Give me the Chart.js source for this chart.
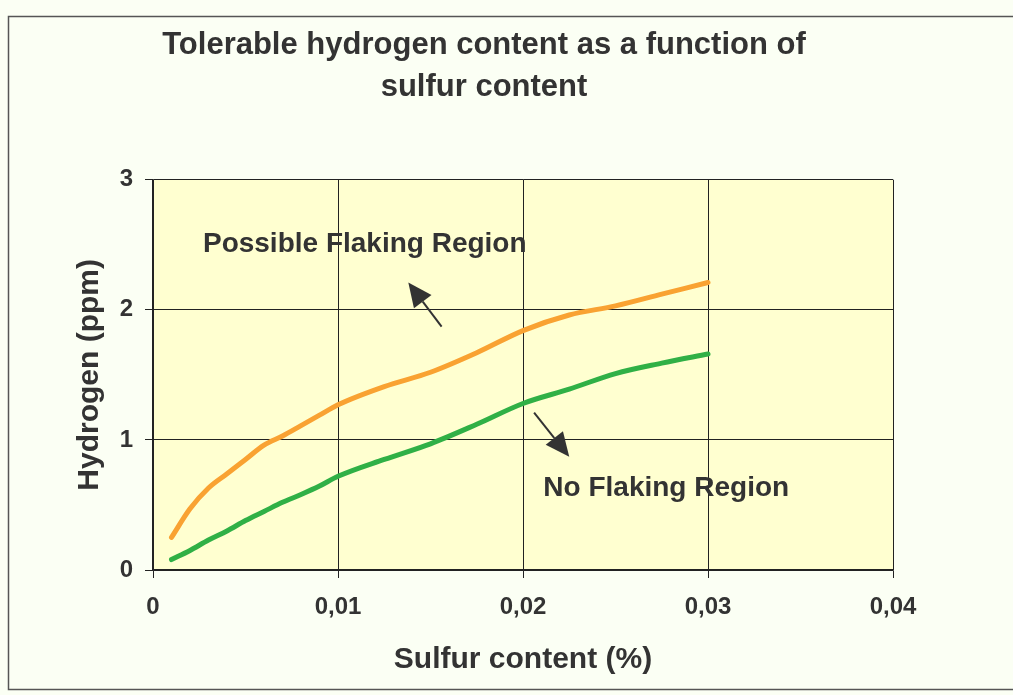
<!DOCTYPE html>
<html>
<head>
<meta charset="utf-8">
<script src="https://cdn.jsdelivr.net/npm/chart.js@4/dist/chart.umd.min.js"></script>
<style>
  html, body { margin: 0; padding: 0; background: #ffffff; }
  #wrap { width: 1013px; height: 695px; }
</style>
</head>
<body>
<div id="wrap"><canvas id="chart-area" width="1013" height="695"></canvas></div>
<script>
// sulfur content (%) and tolerable hydrogen (ppm)
var sulfur = [0.001, 0.002, 0.003, 0.004, 0.005, 0.006, 0.007, 0.008, 0.009, 0.010,
              0.0125, 0.015, 0.0175, 0.020, 0.0225, 0.025, 0.0275, 0.030];
var upperCurve = [0.25, 0.47, 0.63, 0.74, 0.85, 0.96, 1.03, 1.11, 1.19, 1.27,
                  1.41, 1.52, 1.67, 1.84, 1.96, 2.03, 2.12, 2.21];
var lowerCurve = [0.08, 0.15, 0.23, 0.30, 0.38, 0.45, 0.52, 0.58, 0.645, 0.72,
                  0.85, 0.97, 1.12, 1.28, 1.39, 1.51, 1.59, 1.66];
var xTicks = [0, 0.01, 0.02, 0.03, 0.04];
var yTicks = [0, 1, 2, 3];
var regionNames = ['Possible Flaking Region', 'No Flaking Region'];

var FONT = "'Liberation Sans', Arial, Helvetica, sans-serif";
var INK = '#333333';

function points(ys) {
  return sulfur.map(function(x, i) { return { x: x, y: ys[i] }; });
}

// region labels with their arrows, in data units
var notes = [
  { text: regionNames[0], x: 0.0027, y: 2.50, from: [0.0156, 1.87], to: [0.0138, 2.21] },
  { text: regionNames[1], x: 0.0211, y: 0.63, from: [0.0206, 1.21], to: [0.0225, 0.87] }
];

var paper = {
  id: 'paper',
  beforeDraw: function(chart) {
    var c = chart.ctx, a = chart.chartArea;
    c.save();
    c.fillStyle = '#fbfff4';
    c.fillRect(0, 0, chart.width, chart.height);
    c.strokeStyle = '#555555';
    c.lineWidth = 1.5;
    c.strokeRect(8.5, 16.5, chart.width + 10, 673);
    c.fillStyle = '#ffffd0';
    c.fillRect(a.left, a.top, a.right - a.left, a.bottom - a.top);
    c.restore();
  }
};

var regions = {
  id: 'regions',
  afterDatasetsDraw: function(chart) {
    var c = chart.ctx, sx = chart.scales.x, sy = chart.scales.y;
    c.save();
    c.fillStyle = INK;
    c.strokeStyle = INK;
    c.font = 'bold 28px ' + FONT;
    c.textBaseline = 'middle';
    c.textAlign = 'left';
    notes.forEach(function(n) {
      c.fillText(n.text, sx.getPixelForValue(n.x), sy.getPixelForValue(n.y));
      var x1 = sx.getPixelForValue(n.from[0]), y1 = sy.getPixelForValue(n.from[1]);
      var x2 = sx.getPixelForValue(n.to[0]), y2 = sy.getPixelForValue(n.to[1]);
      var ang = Math.atan2(y2 - y1, x2 - x1);
      var hl = 24, hw = 11;
      var bx = x2 - hl * Math.cos(ang), by = y2 - hl * Math.sin(ang);
      c.lineWidth = 2;
      c.beginPath();
      c.moveTo(x1, y1);
      c.lineTo(bx, by);
      c.stroke();
      c.beginPath();
      c.moveTo(x2, y2);
      c.lineTo(bx + hw * Math.sin(ang), by - hw * Math.cos(ang));
      c.lineTo(bx - hw * Math.sin(ang), by + hw * Math.cos(ang));
      c.closePath();
      c.fill();
    });
    c.restore();
  }
};

window.onload = function() {
  var ctx = document.getElementById('chart-area').getContext('2d');
  var config = {
    type: 'line',
    data: {
      datasets: [{
        label: 'Upper limit',
        data: points(upperCurve),
        borderColor: '#f9a232',
        borderWidth: 5,
        borderCapStyle: 'round',
        pointRadius: 0,
        cubicInterpolationMode: 'monotone',
        fill: false
      }, {
        label: 'Lower limit',
        data: points(lowerCurve),
        borderColor: '#30b046',
        borderWidth: 5,
        borderCapStyle: 'round',
        pointRadius: 0,
        cubicInterpolationMode: 'monotone',
        fill: false
      }]
    },
    options: {
      responsive: false,
      animation: false,
      layout: { padding: { top: 0, left: 75, right: 120, bottom: 0 } },
      plugins: {
        legend: { display: false },
        tooltip: { enabled: false },
        title: {
          display: true,
          text: ['Tolerable hydrogen content as a function of', 'sulfur content'],
          color: INK,
          font: { family: FONT, size: 31, weight: 'bold', lineHeight: 1.35 },
          padding: { top: 25, bottom: 71 }
        }
      },
      scales: {
        x: {
          type: 'linear',
          min: xTicks[0],
          max: xTicks[xTicks.length - 1],
          afterBuildTicks: function(scale) {
            scale.ticks = xTicks.map(function(v) { return { value: v }; });
          },
          afterFit: function(scale) { scale.height = 125; },
          ticks: {
            color: INK,
            padding: 15,
            maxRotation: 0,
            font: { family: FONT, size: 24, weight: 'bold' },
            callback: function(v) {
              var r = Math.round(v * 100) / 100;
              return r === 0 ? '0' : r.toFixed(2).replace('.', ',');
            }
          },
          grid: { color: '#222222', lineWidth: 1, tickLength: 8, tickColor: '#222222' },
          border: { color: '#222222', width: 1.5 },
          title: {
            display: true,
            text: 'Sulfur content (%)',
            color: INK,
            font: { family: FONT, size: 30, weight: 'bold', lineHeight: 1 },
            padding: { top: 0, bottom: 20 }
          }
        },
        y: {
          min: yTicks[0],
          max: yTicks[yTicks.length - 1],
          afterBuildTicks: function(scale) {
            scale.ticks = yTicks.map(function(v) { return { value: v }; });
          },
          afterFit: function(scale) { scale.width = 78; },
          ticks: {
            color: INK,
            padding: 12,
            font: { family: FONT, size: 24, weight: 'bold' }
          },
          grid: { color: '#222222', lineWidth: 1, tickLength: 8, tickColor: '#222222' },
          border: { color: '#222222', width: 1.5 },
          title: {
            display: true,
            text: 'Hydrogen (ppm)',
            color: INK,
            font: { family: FONT, size: 30, weight: 'bold', lineHeight: 1 },
            padding: { top: 0, bottom: 0 }
          }
        }
      }
    },
    plugins: [paper, regions]
  };
  window.myLine = new Chart(ctx, config);
};
</script>
</body>
</html>
